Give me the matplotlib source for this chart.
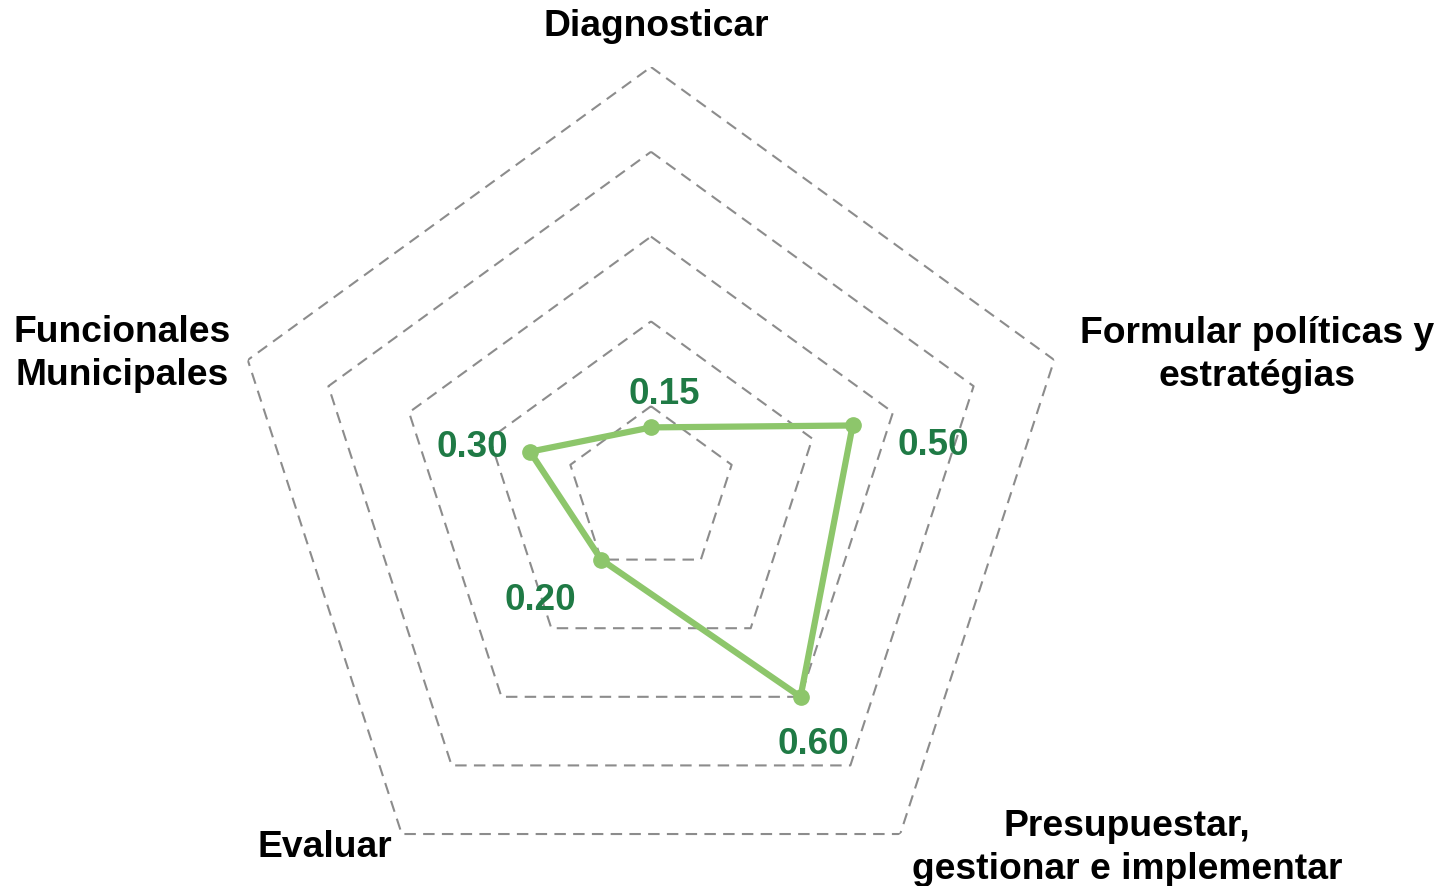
import numpy as np
import matplotlib.pyplot as plt

categories = ["Diagnosticar", "Formular políticas y\nestratégias",
              "Presupuestar,\ngestionar e implementar", "Evaluar",
              "Funcionales\nMunicipales"]
values = [0.15, 0.50, 0.60, 0.20, 0.30]
value_labels = ["0.15", "0.50", "0.60", "0.20", "0.30"]
grid_levels = [0.2, 0.4, 0.6, 0.8, 1.0]

W, H = 1450, 887
fig = plt.figure(figsize=(W / 100, H / 100), dpi=100)

# polar axes placed so the centre and radius match the reference
cx, cy, R = 651, 492, 424
ax = fig.add_axes([(cx - R) / W, (H - cy - R) / H, 2 * R / W, 2 * R / H], projection="polar")
ax.set_theta_offset(np.pi / 2)
ax.set_theta_direction(-1)
ax.set_ylim(0, 1.0)
ax.grid(False)
ax.spines["polar"].set_visible(False)
ax.set_xticks([])
ax.set_yticks([])
ax.patch.set_alpha(0)

n = len(categories)
angles = np.linspace(0, 2 * np.pi, n, endpoint=False)
closed = np.append(angles, angles[0])

# dashed pentagon grid
for lvl in grid_levels:
    ax.plot(closed, [lvl] * (n + 1), color="#8c8c8c", lw=1.5, ls=(0, (5.5, 3.5)), zorder=1)

# data series
vals = np.append(values, values[0])
ax.plot(closed, vals, color="#8dc66b", lw=4.5, zorder=3)
ax.plot(angles, values, "o", color="#8dc66b", ms=11, zorder=4)

# value labels (pixel positions)
label_pos = [(664, 394), (933, 446), (813, 745), (540, 600), (472, 448)]
for txt, (px, py) in zip(value_labels, label_pos):
    fig.text(px / W, 1 - py / H, txt, ha="center", va="center", fontsize=26.5,
             fontweight="bold", color="#1f7a45", family="Liberation Sans")

# category labels
cat_pos = [(656, 27), (1257, 355), (1127, 848), (325, 848), (122, 354)]
for txt, (px, py) in zip(categories, cat_pos):
    fig.text(px / W, 1 - py / H, txt, ha="center", va="center", fontsize=26.8,
             fontweight="bold", color="black", family="Liberation Sans",
             linespacing=1.28)

fig.savefig("out.png", dpi=100)
